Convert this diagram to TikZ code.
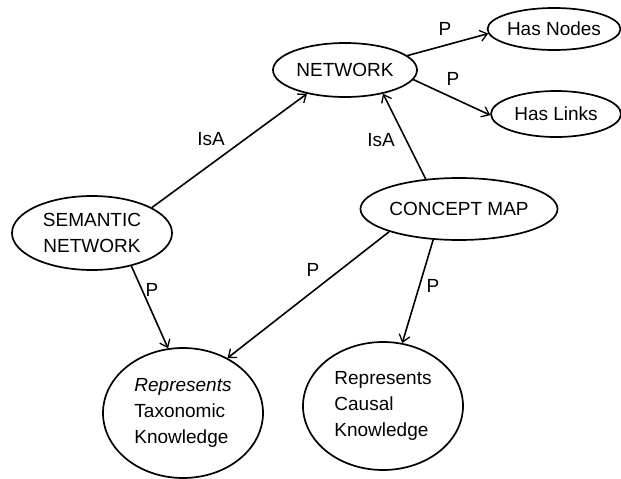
\documentclass[tikz,border=0pt]{standalone}
\usepackage{fontspec}
\setmainfont{Liberation Sans}
\usetikzlibrary{shapes.geometric,arrows.meta}
\begin{document}
\begin{tikzpicture}[x=1pt,y=-1pt,
  every node/.style={font=\fontsize{19}{26}\selectfont},
  ell/.style={draw,ellipse,line width=1.7pt,inner sep=0pt},
  lbl/.style={inner sep=0pt},
  arr/.style={line width=1.6pt,-{Straight Barb[length=7pt,width=11pt,line width=1.3pt]}}]
\useasboundingbox (0,0) rectangle (621,479);
\node[ell,minimum width=144pt,minimum height=54pt] (net) at (345,70) {NETWORK};
\node[ell,minimum width=128pt,minimum height=42pt] (hn) at (554,29) {Has Nodes};
\node[ell,minimum width=130pt,minimum height=46pt] (hl) at (556,114) {Has Links};
\node[ell,minimum width=160pt,minimum height=74pt,align=center] (sem) at (92,233) {SEMANTIC\\NETWORK};
\node[ell,minimum width=182pt,minimum height=62pt] (cm) at (459,209) {CONCEPT MAP};
\node[ell,minimum width=160pt,minimum height=130pt,align=left] (tax) at (183,413) {\textit{Represents}\\Taxonomic\\Knowledge};
\node[ell,minimum width=160pt,minimum height=128pt,align=left] (cau) at (383,406) {Represents\\Causal\\Knowledge};
\draw[arr] (sem.23) -- (net.212);
\draw[arr] (cm.138) -- (net.328);
\draw[arr] (net.13) -- (hn.184);
\draw[arr] (net.352) -- (hl.181);
\draw[arr] (sem.320) -- (tax.103);
\draw[arr] (cm.198) -- (tax.51);
\draw[arr] (cm.230) -- (cau.73);
\node[lbl] (l1) at (211,139) {IsA};
\node[lbl] (l2) at (381,140) {IsA};
\node[lbl] (l3) at (445,29) {P};
\node[lbl] (l4) at (453,79) {P};
\node[lbl] (l5) at (152,290) {P};
\node[lbl] (l6) at (313,270) {P};
\node[lbl] (l7) at (433,286) {P};
\end{tikzpicture}
\end{document}
